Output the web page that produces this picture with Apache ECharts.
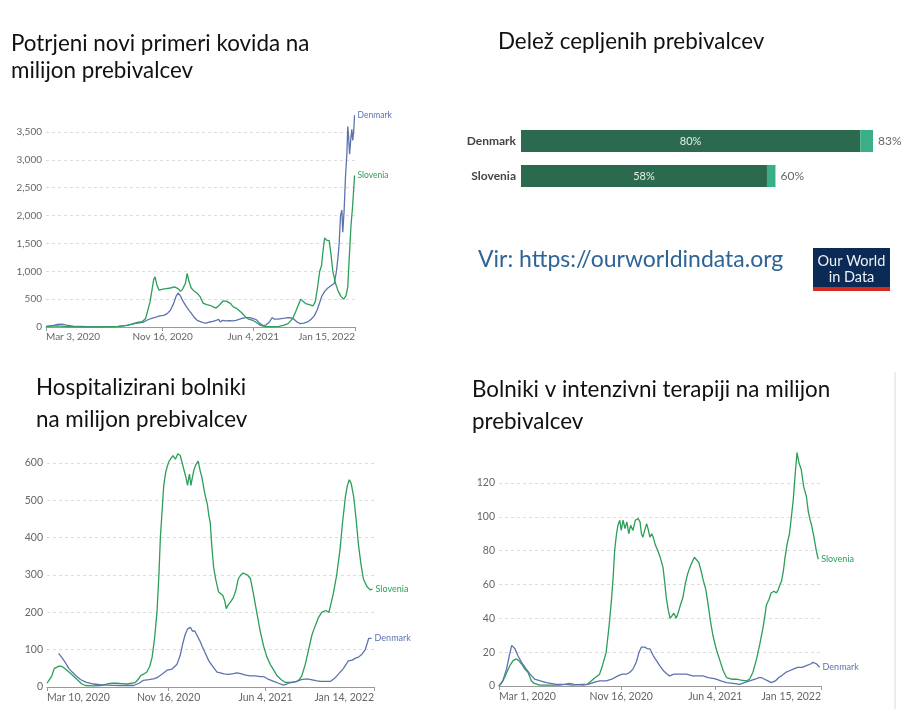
<!DOCTYPE html>
<html lang="sl">
<head>
    <meta charset="UTF-8">
    <title>Covid - Danska in Slovenija</title>
    <script src="https://cdn.jsdelivr.net/npm/echarts@6/dist/echarts.min.js"></script>
    <style>
        html, body {margin: 0; padding: 0; background: #ffffff;}
        #main {width: 917px; height: 709px;}
    </style>
</head>
<body>
<div id="main"></div>
<script type="text/javascript">

    // potrjeni primeri na milijon (dan od 3. 3. 2020)
    var casesTickDays = [0, 258, 458, 683]
    var casesTickLabels = ['Mar 3, 2020', 'Nov 16, 2020', 'Jun 4, 2021', 'Jan 15, 2022']
    var casesSIDays = [0,10,25,40,60,100,140,160,180,195,210,220,230,238,241,245,250,258,266,275,284,292,297,302,308,312,316,321,328,335,341,347,355,362,370,376,384,392,396,400,404,408,414,420,426,432,440,448,457,465,472,480,490,505,515,525,535,545,552,558,563,568,574,582,590,595,600,605,609,612,616,620,626,630,634,640,646,652,658,663,667,670,674,678,682]
    var casesSI = [5,15,20,10,3,2,5,10,30,60,80,150,450,850,900,760,660,680,690,700,720,690,640,680,780,960,820,700,640,600,540,430,400,390,360,340,400,470,500,460,480,420,360,340,300,260,190,140,120,80,40,15,5,5,10,30,60,150,280,400,500,460,420,400,380,450,700,1000,1100,1350,1600,1560,1550,1300,1000,780,640,550,500,560,720,1200,1800,2200,2720]
    var casesDKDays = [0,15,25,35,45,60,90,130,160,178,190,200,207,215,225,237,245,251,260,268,275,282,288,292,297,303,310,316,321,328,334,340,347,354,362,369,376,382,385,387,390,398,406,413,420,428,435,442,450,458,465,472,479,486,494,500,505,512,520,528,535,542,548,555,562,570,578,586,593,600,605,610,616,623,630,637,642,646,648,651,654,656,659,662,665,667,669,671,674,676,678,680,682]
    var casesDK = [10,25,45,50,35,15,5,3,10,30,50,80,90,85,130,165,180,200,210,240,300,420,560,610,560,460,370,300,250,170,120,100,80,70,90,100,120,135,90,60,120,110,115,110,120,140,160,170,170,150,130,70,30,35,90,170,140,140,150,160,170,165,140,90,60,70,90,140,200,320,440,560,640,700,740,780,1000,1300,1500,2000,2100,1700,2100,2700,3100,3600,3400,3100,3400,3550,3350,3500,3800]

    // delez cepljenih
    var vaxCountries = ['Denmark', 'Slovenia']
    var vaxFull = [80, 58]
    var vaxTotal = [83, 60]

    // hospitalizirani na milijon (dan od 10. 3. 2020)
    var hospTickDays = [0, 251, 451, 675]
    var hospTickLabels = ['Mar 10, 2020', 'Nov 16, 2020', 'Jun 4, 2021', 'Jan 14, 2022']
    var hospSIDays = [0,5,10,15,19,25,31,36,41,50,62,72,79,95,110,124,135,144,155,165,175,182,188,193,200,206,212,217,222,227,231,234,238,241,245,248,252,256,260,265,270,275,279,283,287,290,294,297,300,303,307,312,316,320,324,327,331,334,337,340,344,348,354,358,363,367,370,374,380,385,390,395,400,405,409,414,420,426,433,440,447,454,461,468,475,483,492,505,516,521,526,533,540,547,554,560,567,575,582,585,591,598,605,610,616,620,624,628,633,638,643,648,653,660,667,672]
    var hospSI = [10,20,30,50,55,56,55,50,45,35,20,8,4,3,4,8,10,10,9,8,10,12,20,30,35,40,55,80,130,200,300,400,480,540,575,590,605,600,620,610,625,620,600,580,560,540,570,540,560,580,595,605,580,560,530,510,490,460,440,380,320,290,255,250,245,230,210,220,230,240,260,290,300,305,305,300,290,250,200,150,110,80,60,45,30,20,12,12,15,20,30,60,100,140,165,185,200,205,200,205,250,300,370,440,510,540,555,545,510,450,380,330,290,270,260,262]
    var hospDKDays = [24,30,38,45,52,60,69,80,96,110,124,150,179,190,199,210,220,227,238,248,258,268,275,280,285,290,296,300,305,309,315,320,327,334,342,351,358,365,375,385,392,400,410,420,430,440,447,455,468,478,488,495,502,515,525,536,545,555,564,575,585,595,602,612,622,630,638,643,650,657,661,664,667,670]
    var hospDK = [90,80,65,50,40,30,20,13,8,6,5,4,4,10,18,20,22,25,35,45,48,60,85,115,140,155,160,150,150,140,125,110,90,70,55,40,38,35,34,36,38,36,32,30,30,28,28,22,15,10,5,8,12,15,20,22,20,17,15,15,15,25,35,50,70,72,78,80,88,100,95,130,125,130]

    // intenzivna terapija na milijon (dan od 1. 3. 2020)
    var icuTickDays = [0, 260, 460, 685]
    var icuTickLabels = ['Mar 1, 2020', 'Nov 16, 2020', 'Jun 4, 2021', 'Jan 15, 2022']
    var icuSIDays = [0,6,12,18,23,30,37,42,48,55,62,66,69,75,87,110,129,140,150,160,179,188,196,205,214,220,228,234,239,243,246,250,253,257,260,264,268,272,276,280,285,290,296,300,303,306,310,314,317,321,325,328,333,338,343,349,353,356,360,364,367,372,377,382,386,391,396,401,406,412,416,420,425,430,434,440,445,450,455,462,470,477,484,495,505,515,526,533,540,548,555,562,569,574,579,585,590,594,598,601,605,608,613,618,622,626,630,634,638,643,648,654,658,662,665,670,675,679]
    var icuSI = [0,2,5,9,12,15,16,15,13,10,8,5,3,1.5,0.5,0.5,0.5,1,1.5,1,0.5,1,3,5,7,12,20,35,50,65,80,90,95,98,92,98,93,97,90,95,92,98,99,97,90,88,92,96,93,88,90,88,83,80,76,70,60,52,45,40,41,43,40,44,48,52,60,66,70,74,76,76,73,68,63,57,48,38,30,22,15,9,5,4,4,3.5,3,4,8,16,25,35,48,51,55,56,55,57,60,62,68,75,84,90,100,110,125,138,132,128,118,112,103,98,95,88,80,75]
    var icuDKDays = [0,8,16,22,27,30,34,40,48,58,66,76,88,101,122,140,157,175,190,200,214,228,240,253,262,271,278,285,292,298,303,310,316,321,328,335,342,350,358,363,372,385,399,412,424,434,445,455,462,472,484,498,512,522,533,545,553,558,565,572,579,588,595,601,610,618,626,635,645,654,663,668,672,676,682]
    var icuDK = [0,3,10,18,24,25,22,18,14,10,7,4,3,2,1,1,0.5,1,1,2,3,3,4,6,7,7,8,10,14,20,23,23,22,22,18,15,12,9,7,6,7,7,7,6,6,6,5,4.5,4,3,2,1.5,1,2,3,4,5,5,4,3,2,3,5,6,8,9,10,11,11,12,13,14,14,13,11]

    var blue = '#5d73ae'
    var green = '#2b9e58'
    var axisFont = 'Lato'

    function pairs(days, vals) {
        var out = []
        for (var i = 0; i < days.length; i++) {
            out.push([days[i], vals[i]])
        }
        return out
    }

    function timeAxis(idx, maxDay, tickDays, tickLabels, fs) {
        return {
            type: 'value', gridIndex: idx, min: 0, max: maxDay,
            axisLine: {lineStyle: {color: '#999'}},
            axisTick: {show: true, customValues: tickDays, length: 4, lineStyle: {color: '#999'}},
            splitLine: {show: false},
            axisLabel: {
                customValues: tickDays, color: '#666', fontFamily: axisFont, fontSize: fs, margin: 5,
                alignMinLabel: 'left', alignMaxLabel: 'right',
                formatter: function (v) { return tickLabels[tickDays.indexOf(v)] }
            }
        }
    }

    function valAxis(idx, max, step, fs, commas) {
        return {
            type: 'value', gridIndex: idx, min: 0, max: max, interval: step,
            axisLine: {show: false}, axisTick: {show: false},
            splitLine: {lineStyle: {color: '#dcdcdc', type: [3, 3]}},
            axisLabel: {
                color: '#666', fontFamily: axisFont, fontSize: fs, margin: 4,
                formatter: function (v) { return commas ? v.toLocaleString('en-US') : v }
            }
        }
    }

    function line(name, idx, data, color, fs) {
        return {
            name: name, type: 'line', xAxisIndex: idx, yAxisIndex: idx,
            data: data, showSymbol: false, clip: false, animation: false,
            lineStyle: {color: color, width: 1.3},
            itemStyle: {color: color},
            endLabel: {show: true, formatter: '{a}', color: color, fontFamily: axisFont, fontSize: fs, distance: 3}
        }
    }

    function txt(str, x, y, size, color, family) {
        return {
            type: 'text', x: x, y: y, silent: true,
            style: {text: str, fontSize: size, fontFamily: family || 'Lato', fill: color || '#111', verticalAlign: 'middle'}
        }
    }

    var myChart = echarts.init(document.getElementById('main'))

    var option = {
        backgroundColor: '#ffffff',
        animation: false,
        grid: [
            {left: 46, top: 132, width: 309, height: 195},
            {left: 521, top: 123.5, width: 352, height: 70},
            {left: 47, top: 463, width: 327, height: 224},
            {left: 499, top: 483, width: 322, height: 203}
        ],
        xAxis: [
            timeAxis(0, 683, casesTickDays, casesTickLabels, 10),
            {type: 'value', gridIndex: 1, min: 0, max: 83, show: false},
            timeAxis(2, 675, hospTickDays, hospTickLabels, 10.5),
            timeAxis(3, 685, icuTickDays, icuTickLabels, 10.5)
        ],
        yAxis: [
            valAxis(0, 3500, 500, 10, true),
            {
                type: 'category', gridIndex: 1, data: vaxCountries, inverse: true,
                axisLine: {show: false}, axisTick: {show: false},
                axisLabel: {color: '#444', fontFamily: axisFont, fontSize: 12, fontWeight: 'bold', margin: 5}
            },
            valAxis(2, 600, 100, 10.5, false),
            valAxis(3, 120, 20, 10.5, false)
        ],
        series: [
            line('Denmark', 0, pairs(casesDKDays, casesDK), blue, 8.5),
            line('Slovenia', 0, pairs(casesSIDays, casesSI), green, 8.5),
            {
                name: 'full', type: 'bar', xAxisIndex: 1, yAxisIndex: 1, stack: 'vax',
                data: vaxFull, barWidth: 22, itemStyle: {color: '#2c6a50'},
                label: {show: true, position: 'inside', formatter: '{c}%', color: '#e8efe9', fontFamily: axisFont, fontSize: 11}
            },
            {
                name: 'part', type: 'bar', xAxisIndex: 1, yAxisIndex: 1, stack: 'vax',
                data: vaxTotal.map(function (t, i) { return t - vaxFull[i] }),
                barWidth: 22, itemStyle: {color: '#3aae86'},
                label: {
                    show: true, position: 'right', distance: 5, color: '#666', fontFamily: axisFont, fontSize: 12,
                    formatter: function (p) { return vaxTotal[p.dataIndex] + '%' }
                }
            },
            line('Slovenia', 2, pairs(hospSIDays, hospSI), green, 9),
            line('Denmark', 2, pairs(hospDKDays, hospDK), blue, 9),
            line('Slovenia', 3, pairs(icuSIDays, icuSI), green, 9),
            line('Denmark', 3, pairs(icuDKDays, icuDK), blue, 9)
        ],
        graphic: [
            txt('Potrjeni novi primeri kovida na', 11, 44, 22.4),
            txt('milijon prebivalcev', 11, 71, 22.4),
            txt('Delež cepljenih prebivalcev', 498, 42, 22.4),
            txt('Hospitalizirani bolniki', 36, 388, 22.4),
            txt('na milijon prebivalcev', 36, 420, 22.4),
            txt('Bolniki v intenzivni terapiji na milijon', 472, 390, 22.4),
            txt('prebivalcev', 472, 422, 22.4),
            txt('Vir: https://ourworldindata.org', 478, 260, 23, '#2f6496'),
            {type: 'rect', shape: {x: 813, y: 248, width: 77, height: 39}, style: {fill: '#0b2a55'}, silent: true},
            {type: 'rect', shape: {x: 813, y: 287, width: 77, height: 4}, style: {fill: '#d42b21'}, silent: true},
            {
                type: 'text', x: 851.5, y: 261, silent: true,
                style: {text: 'Our World', fontSize: 14.5, fontFamily: 'Lato', fill: '#eef1f6', align: 'center', verticalAlign: 'middle'}
            },
            {
                type: 'text', x: 851.5, y: 277, silent: true,
                style: {text: 'in Data', fontSize: 14.5, fontFamily: 'Lato', fill: '#eef1f6', align: 'center', verticalAlign: 'middle'}
            },
            {type: 'rect', shape: {x: 894, y: 372, width: 2, height: 337}, style: {fill: '#ececec'}, silent: true}
        ]
    }

    myChart.setOption(option)

</script>
</body>
</html>
